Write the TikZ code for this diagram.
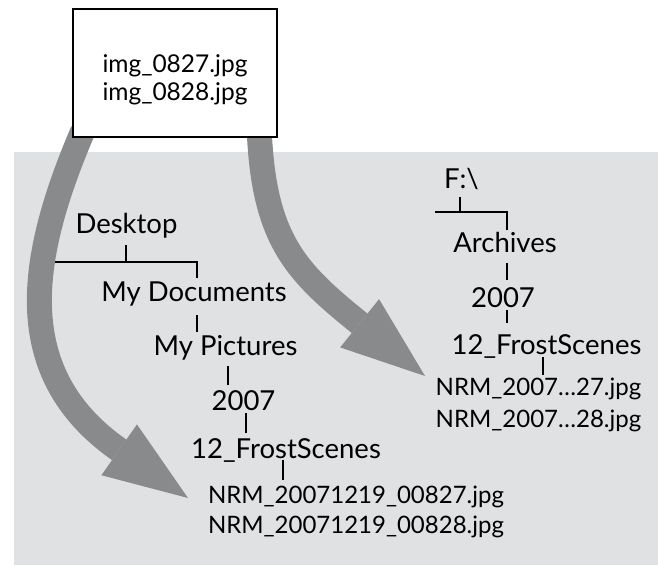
\documentclass[tikz,border=0pt]{standalone}
\usepackage{fontspec}
\setmainfont{Lato}
\usetikzlibrary{arrows.meta,calc}
\definecolor{bggray}{RGB}{224,225,227}
\definecolor{arrowgray}{RGB}{137,138,140}
\pgfdeclarelayer{bglayer}
\pgfdeclarelayer{arrowlayer}
\pgfsetlayers{bglayer,arrowlayer,main}
\begin{document}
\begin{tikzpicture}[x=1pt,y=-1pt,
  folder/.style={font=\fontsize{27.5}{32}\selectfont, inner sep=0pt, anchor=base},
  filesL/.style={font=\fontsize{24}{30}\selectfont, inner sep=0pt, anchor=base, align=center},
  filesR/.style={font=\fontsize{24}{32}\selectfont, inner sep=0pt, anchor=base, align=center},
  srctext/.style={font=\fontsize{24.5}{28}\selectfont, inner sep=0pt, anchor=base, align=center},
  tree/.style={line width=2pt, line cap=butt},
  bigarrow/.style={draw=arrowgray, line width=25pt, -{Triangle[length=84pt,width=62pt,line width=0pt]}},
  srcbox/.style={draw=black, fill=white, line width=2.5pt, minimum width=204pt, minimum height=128pt, inner sep=0pt}]
\useasboundingbox (0,0) rectangle (658,565);
\begin{pgfonlayer}{bglayer}
\fill[bggray] (14,152) rectangle (658,565);
\end{pgfonlayer}

% source box
\node[srcbox] (src) at (175,73) {};
\node[srctext] (srctxt) at (175,100) {img\_0827.jpg\\img\_0828.jpg};

% left tree
\node[folder] (desk) at (126.5,233) {Desktop};
\node[folder] (mydocs) at (194,301) {My Documents};
\node[folder] (mypics) at (225.5,355) {My Pictures};
\node[folder] (yrL) at (243.5,410) {2007};
\node[folder] (frostL) at (286,458) {12\_FrostScenes};
\node[filesL] (nrmL) at (356,533) {NRM\_20071219\_00827.jpg\\NRM\_20071219\_00828.jpg};

% right tree
\node[folder] (fdrive) at (461.5,188) {F:\textbackslash};
\node[folder] (arch) at (505,252) {Archives};
\node[folder] (yrR) at (503,307) {2007};
\node[folder] (frostR) at (546.5,354) {12\_FrostScenes};
\node[filesR] (nrmR) at (538.5,427) {NRM\_2007…27.jpg\\NRM\_2007…28.jpg};

\begin{pgfonlayer}{bglayer}
\draw[tree] ($(desk.base)+(-0.5,12)$) -- ($(desk.base)+(-0.5,29)$);
\draw[tree] ($(desk.base)+(-86.5,29)$) -| ($(mydocs.base)+(3,-23)$);
\draw[tree] ($(mydocs.base)+(3,14)$) -- ($(mypics.base)+(-28.5,-23)$);
\draw[tree] ($(mypics.base)+(2.5,11)$) -- ($(yrL.base)+(-15.5,-25)$);
\draw[tree] ($(yrL.base)+(2.5,3)$) -- ($(frostL.base)+(-40,-25)$);
\draw[tree] ($(frostL.base)+(-3,2)$) -- ($(nrmL.base)+(-73,-53)$);
\draw[tree] ($(fdrive.base)+(-1.5,9)$) -- ($(fdrive.base)+(-1.5,24)$);
\draw[tree] ($(fdrive.base)+(-26.5,24)$) -| ($(arch.base)+(2,-22)$);
\draw[tree] ($(arch.base)+(2,11)$) -- ($(yrR.base)+(4,-27)$);
\draw[tree] ($(yrR.base)+(4,3)$) -- ($(frostR.base)+(-39.5,-31)$);
\draw[tree] ($(frostR.base)+(-3.5,3)$) -- ($(nrmR.base)+(4.5,-52)$);
\end{pgfonlayer}

\begin{pgfonlayer}{arrowlayer}
\draw[bigarrow] ($(src.south west)+(11,-7)$) .. controls (30,255) and (8,372) .. ($(nrmL.base)+(-168,-35)$);
\draw[bigarrow] ($(src.south east)+(-19,-7)$) .. controls (264,240) and (296,272) .. ($(nrmR.base)+(-113.5,-51)$);
\end{pgfonlayer}
\end{tikzpicture}
\end{document}
